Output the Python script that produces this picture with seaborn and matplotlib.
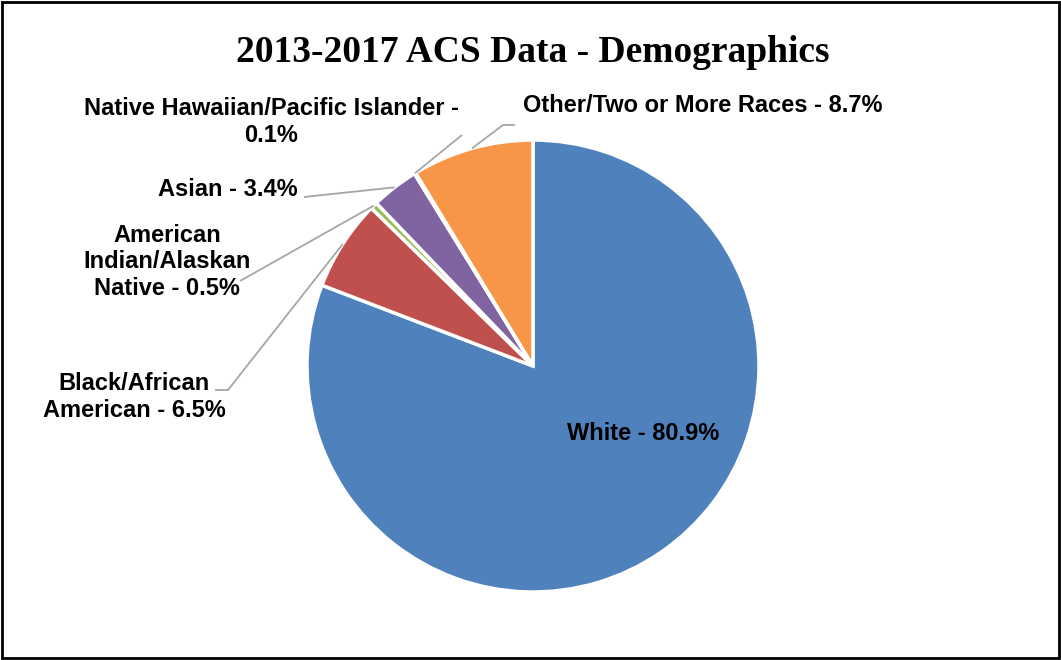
import numpy as np
import matplotlib.pyplot as plt
import seaborn as sns
from matplotlib.patches import Rectangle

# --- datos del grafico ---
categories = ['White', 'Black/African\nAmerican', 'American\nIndian/Alaskan\nNative',
              'Asian', 'Native Hawaiian/Pacific Islander', 'Other/Two or More Races']
separators = [' - ', ' - ', ' - ', ' - ', ' -\n', ' - ']
values = [80.9, 6.5, 0.5, 3.4, 0.1, 8.7]
colors = ['#4F81BD', '#C0504D', '#9BBB59', '#8064A2', '#4BACC6', '#F79646']

# --- estilo ---
sns.set_theme(style='white')
plt.rcParams['font.family'] = ['Liberation Sans', 'DejaVu Sans']
plt.rcParams['text.color'] = 'black'

W, H = 1061, 660
fig = plt.figure(figsize=(W / 100, H / 100), dpi=100)
ax = fig.add_axes([0, 0, 1, 1])
ax.set_xlim(0, W)
ax.set_ylim(0, H)
ax.axis('off')


def px(x, y):
    # coordenadas de imagen (y hacia abajo) a coordenadas del eje
    return x, H - y


cx, cy = px(533, 366)
radius = 226
wedges, _ = ax.pie(values, colors=colors, startangle=90, counterclock=False,
                   center=(cx, cy), radius=radius,
                   wedgeprops=dict(edgecolor='white', linewidth=2.5))
ax.set_aspect('auto')
ax.set_xlim(0, W)
ax.set_ylim(0, H)

# --- posiciones de etiquetas (layout) ---
label_pos = [(643, 433), (134, 397), (167, 262), (228, 190), (271, 122), (703, 105)]
leader_pts = [None,
              [(215, 390), (228, 390)],
              [(240, 281)],
              [(304, 197)],
              [(462, 135)],
              [(515, 125), (503, 125)]]

for i, (w, name, sep, val) in enumerate(zip(wedges, categories, separators, values)):
    text = f'{name}{sep}{val}%'
    lx, ly = px(*label_pos[i])
    ax.text(lx, ly, text, ha='center', va='center', fontsize=17,
            fontweight='bold', color='black', linespacing=1.2)
    if leader_pts[i] is not None:
        mid = np.deg2rad((w.theta1 + w.theta2) / 2)
        ex = cx + radius * np.cos(mid)
        ey = cy + radius * np.sin(mid)
        pts = [px(*p) for p in leader_pts[i]] + [(ex, ey)]
        xs, ys = zip(*pts)
        ax.plot(xs, ys, color='#A6A6A6', lw=1.3, solid_capstyle='butt')

tx, ty = px(533, 62)
ax.text(tx, ty, '2013-2017 ACS Data - Demographics', ha='center', va='baseline',
        fontsize=27, fontweight='bold', color='black',
        family=['Liberation Serif', 'DejaVu Serif'])

ax.add_patch(Rectangle((2, 2), W - 4, H - 4, fill=False, edgecolor='black',
                       lw=2, clip_on=False))

plt.savefig('out.png', dpi=100, facecolor='white')
